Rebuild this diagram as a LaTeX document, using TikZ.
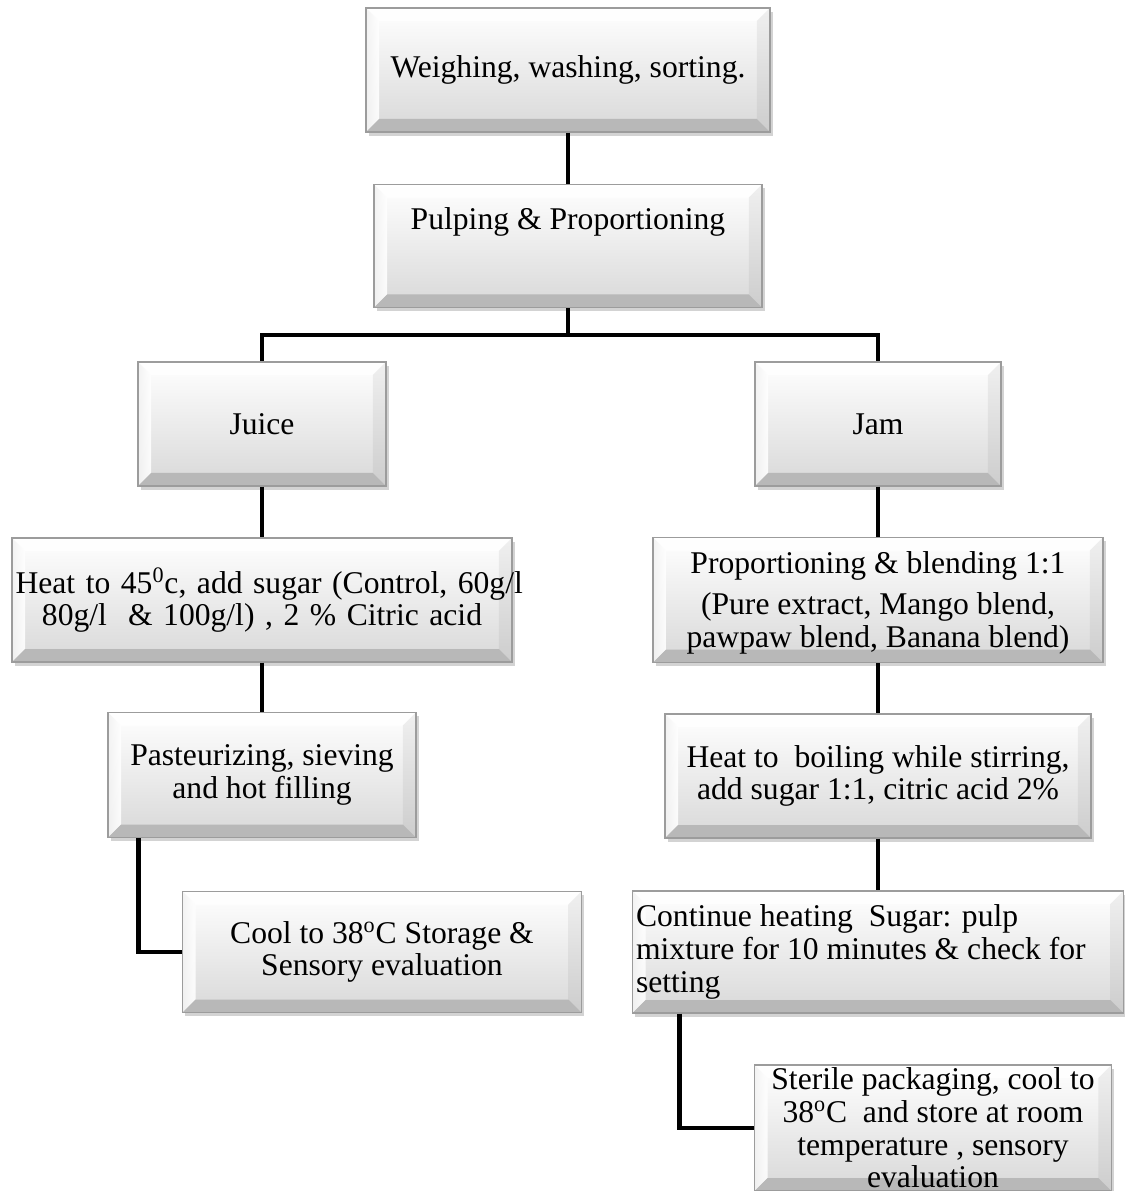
\documentclass[tikz,border=0pt]{standalone}
\usepackage{fontspec}
\setmainfont{Liberation Serif}
\usepackage{tikz}
\usetikzlibrary{positioning, calc, shadows}
\usepackage{xcolor}
\definecolor{BevelEdge}{HTML}{9C9C9C}
\definecolor{BevelDark}{HTML}{B8B8B8}
\definecolor{BevelMid}{HTML}{CDCDCD}
\definecolor{BevelFace}{HTML}{D8D8D8}
\newcommand{\bevw}{0.26cm}
\tikzset{
    % Bevelled grey step boxes
    stepbox/.style={
        rectangle,
        draw=BevelEdge,
        line width=0.7pt,
        top color=white,
        bottom color=BevelFace,
        minimum height=2.48cm,
        inner sep=2pt,
        align=center,
        font=\fontsize{18}{18.6}\selectfont,
        drop shadow={shadow xshift=1.5pt, shadow yshift=-2pt, opacity=0.35, fill=gray},
        path picture={
            \path (path picture bounding box.south west) coordinate (bsw)
                  (path picture bounding box.north east) coordinate (bne);
            \fill[white, opacity=0.8] (bsw |- bne) -- (bne) -- ($(bne)+(-\bevw,-\bevw)$) -- ($(bsw |- bne)+(\bevw,-\bevw)$) -- cycle;
            \shade[left color=gray!10, right color=white, opacity=0.9] (bsw) -- (bsw |- bne) -- ($(bsw |- bne)+(\bevw,-\bevw)$) -- ($(bsw)+(\bevw,\bevw)$) -- cycle;
            \shade[top color=gray!12, bottom color=BevelMid] (bne) -- (bne |- bsw) -- ($(bne |- bsw)+(-\bevw,\bevw)$) -- ($(bne)+(-\bevw,-\bevw)$) -- cycle;
            \fill[BevelDark] (bsw) -- (bne |- bsw) -- ($(bne |- bsw)+(-\bevw,\bevw)$) -- ($(bsw)+(\bevw,\bevw)$) -- cycle;
        }
    },
    % Connector style
    link/.style={
        line width=2.8pt,
        black
    }
}

\begin{document}
\begin{tikzpicture}[x=0.02cm, y=-0.02cm]
    \useasboundingbox (0,0) rectangle (1125,1191);
    \clip (0,0) rectangle (1125,1191);

    \node[stepbox, minimum width=8.08cm] (weigh) at (568,70) {Weighing, washing, sorting.};
    \node[stepbox, minimum width=7.76cm, minimum height=2.46cm, text depth=1.1cm] (pulp) at (568,246) {Pulping \& Proportioning};

    \node[stepbox, minimum width=4.96cm] (juice) at (262,424) {Juice};
    \node[stepbox, minimum width=4.92cm] (jam) at (878,424) {Jam};

    % juice branch
    \node[stepbox, minimum width=10cm, text width=9.86cm] (heatl) at (262,600)
        {\mbox{Heat to 45\textsuperscript{0}c, add sugar (Control, 60g/l}\\80g/l\ \ \& 100g/l) , 2 \% Citric acid};
    \node[stepbox, minimum width=6.16cm, minimum height=2.5cm] (past) at (262,775)
        {Pasteurizing, sieving\\and hot filling};
    \node[stepbox, minimum width=7.98cm, minimum height=2.42cm] (cool) at (382,952)
        {Cool to 38\textsuperscript{o}C Storage \&\\Sensory evaluation};

    % jam branch
    \node[stepbox, minimum width=9cm, minimum height=2.5cm, text height=2.04cm] (prop) at (878,600)
        {Proportioning \& blending 1:1\\[5pt](Pure extract, Mango blend,\\pawpaw blend, Banana blend)};
    \node[stepbox, minimum width=8.52cm] (boil) at (878,776)
        {Heat to\ \ boiling while stirring,\\add sugar 1:1, citric acid 2\%};
    \node[stepbox, minimum width=9.82cm, minimum height=2.44cm, text width=9.68cm, align=flush left] (cont) at (878,952)
        {Continue heating\ \ Sugar: pulp\\mixture for 10 minutes \& check for\\setting};
    \node[stepbox, minimum width=7.14cm, minimum height=2.52cm, inner ysep=0pt] (steril) at (933,1128)
        {Sterile packaging, cool to\\38\textsuperscript{o}C\ \ and store at room\\temperature , sensory\\evaluation};

    \coordinate (split) at (568,335);

    \draw[link] (weigh) -- (pulp);
    \draw[link] (pulp.south) -- (split) -| (juice.north);
    \draw[link] (split) -| (jam.north);
    \draw[link] (juice) -- (heatl);
    \draw[link] (heatl) -- (past);
    \draw[link] ([xshift=0.62cm]past.south west) |- (cool.west);
    \draw[link] (jam) -- (prop);
    \draw[link] (prop) -- (boil);
    \draw[link] (boil) -- (cont);
    \draw[link] ([xshift=0.96cm]cont.south west) |- (steril.west);
\end{tikzpicture}
\end{document}
